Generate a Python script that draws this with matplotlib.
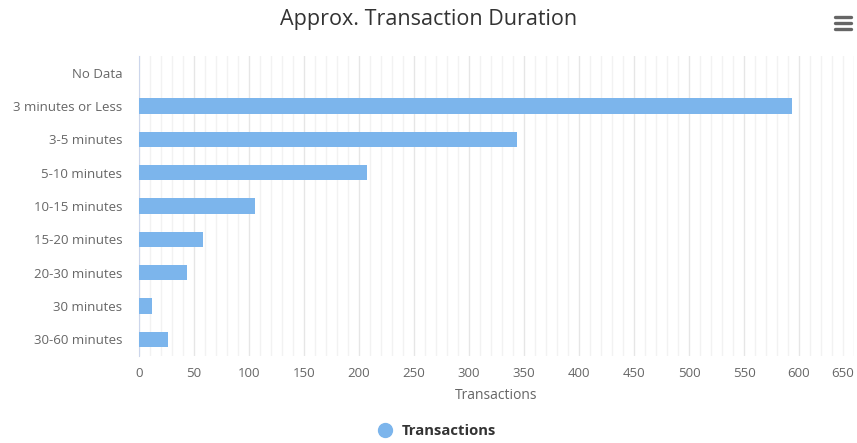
import matplotlib
matplotlib.use("Agg")
import matplotlib.pyplot as plt
from matplotlib.ticker import MultipleLocator
from matplotlib.lines import Line2D

categories = ["No Data", "3 minutes or Less", "3-5 minutes", "5-10 minutes",
              "10-15 minutes", "15-20 minutes", "20-30 minutes", "30 minutes",
              "30-60 minutes"]
values = [0, 594, 344, 207, 105, 58, 44, 12, 26]
series_name = "Transactions"
title = "Approx. Transaction Duration"
x_label = "Transactions"

plt.rcParams['font.family'] = ['Open Sans', 'DejaVu Sans']

W, H = 857, 443
fig = plt.figure(figsize=(W / 100, H / 100), dpi=100)
ax = fig.add_axes([139 / W, 1 - 356 / H, (854 - 139) / W, (356 - 56) / H])

ypos = list(range(len(categories)))
ax.barh(ypos, values, height=0.46, color="#7cb5ec", zorder=3)
ax.set_ylim(len(categories) - 0.5, -0.5)
ax.set_xlim(0, 650)
ax.set_yticks(ypos)
ax.set_yticklabels(categories, fontsize=9.5, color="#666666")
ax.xaxis.set_major_locator(MultipleLocator(50))
ax.xaxis.set_minor_locator(MultipleLocator(10))
ax.tick_params(axis='x', which='both', length=0, labelsize=9.5, labelcolor="#666666", pad=8)
ax.tick_params(axis='y', length=0, pad=12)
ax.grid(axis='x', which='major', color="#e6e6e6", linewidth=1, zorder=0)
ax.grid(axis='x', which='minor', color="#f2f2f2", linewidth=1, zorder=0)
ax.grid(axis='y', visible=False)
for s in ["top", "right", "bottom"]:
    ax.spines[s].set_visible(False)
ax.spines["left"].set_color("#ccd6eb")
ax.set_xlabel(x_label, fontsize=10, color="#666666", labelpad=6)

# keep the last tick label inside the figure (right-aligned at the edge)
fig.canvas.draw()
for tick in ax.xaxis.get_major_ticks():
    if abs(tick.get_loc() - 650) < 1e-6:
        tick.label1.set_horizontalalignment("right")

fig.text(0.5, 1 - 19 / H, title, ha="center", va="center", fontsize=15.5, color="#333333")

# Hamburger menu icon
for yy in (17, 23, 29):
    fig.add_artist(Line2D([835 / W, 851 / W], [1 - yy / H, 1 - yy / H],
                          color="#666666", linewidth=2.4, solid_capstyle="round"))

# Legend
handle = Line2D([], [], marker="o", linestyle="none", markersize=10,
                markerfacecolor="#7cb5ec", markeredgecolor="#7cb5ec")
leg = fig.legend([handle], [series_name], loc="center", bbox_to_anchor=(433 / W, 1 - 431 / H),
                 frameon=False, handletextpad=0.15, prop={"weight": "bold", "size": 10.7})
for t in leg.get_texts():
    t.set_color("#333333")

fig.savefig("out.png", dpi=100)
